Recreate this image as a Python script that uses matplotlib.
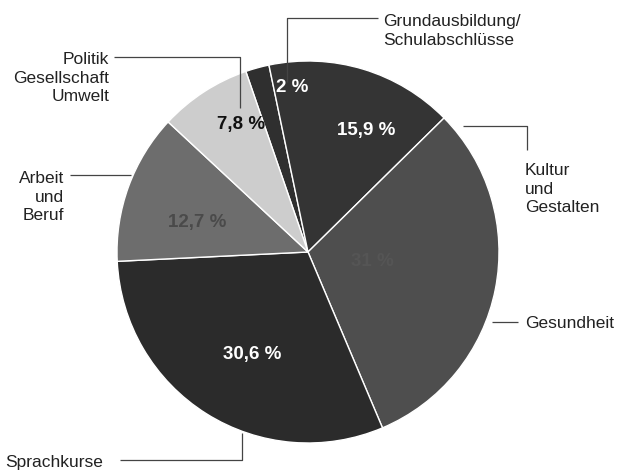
import matplotlib.pyplot as plt

# share of courses by subject area
labels = ["Grundausbildung/\nSchulabschlüsse", "Kultur\nund\nGestalten", "Gesundheit",
          "Sprachkurse", "Arbeit\nund\nBeruf", "Politik\nGesellschaft\nUmwelt"]
shares = [2.0, 15.9, 31.0, 30.6, 12.7, 7.8]
pct_labels = ["2 %", "15,9 %", "31 %", "30,6 %", "12,7 %", "7,8 %"]
colors = ["#2f2f2f", "#343434", "#4e4e4e", "#2b2b2b", "#6d6d6d", "#cdcdcd"]
pct_colors = ["white", "white", "#555555", "white", "#4a4a4a", "#111111"]

plt.rcParams['font.family'] = ['Liberation Sans', 'DejaVu Sans']

W, H = 623, 471
cx, cy, rad = 308, 252, 191  # pie centre / radius in pixels


def px(x, y):
    return (x - cx) / rad, (cy - y) / rad


fig = plt.figure(figsize=(W / 100, H / 100), dpi=100)
ax = fig.add_axes([0, 0, 1, 1])

ax.pie(shares, colors=colors, startangle=109, counterclock=False, radius=1.0,
       center=(0, 0), frame=False,
       wedgeprops=dict(edgecolor='white', linewidth=1.0))

ax.set_xlim(-cx / rad, (W - cx) / rad)
ax.set_ylim((cy - H) / rad, cy / rad)
ax.set_aspect('equal')
ax.axis('off')

# percent labels (pixel positions)
pct_pos = [(292, 87), (366, 130), (372, 262), (252, 355), (197, 222), (241, 124)]
for (x, y), t, c in zip(pct_pos, pct_labels, pct_colors):
    ax.text(*px(x, y), t, color=c, fontsize=13.5, fontweight='bold',
            ha='center', va='center')

# leader lines
leaders = [
    [(287, 82), (287, 18), (378, 18)],
    [(114, 57), (240, 57), (240, 108)],
    [(463, 126), (527, 126), (527, 150)],
    [(492, 322), (518, 322)],
    [(70, 175), (131, 175)],
    [(120, 460), (242, 460), (242, 433)],
]
for pts in leaders:
    xs, ys = zip(*[px(x, y) for x, y in pts])
    ax.plot(xs, ys, color='#444444', lw=0.9, solid_capstyle='butt')

# category labels
lab_pos = [(383, 31, 'left'), (525, 189, 'left'), (525, 323, 'left'),
           (5, 462, 'left'), (64, 197, 'right'), (109, 78, 'right')]
for (x, y, ha), t in zip(lab_pos, labels):
    ax.text(*px(x, y), t, fontsize=12.5, color='#222222', ha=ha, va='center',
            linespacing=1.3, multialignment=ha)

fig.savefig("out.png", dpi=100)
